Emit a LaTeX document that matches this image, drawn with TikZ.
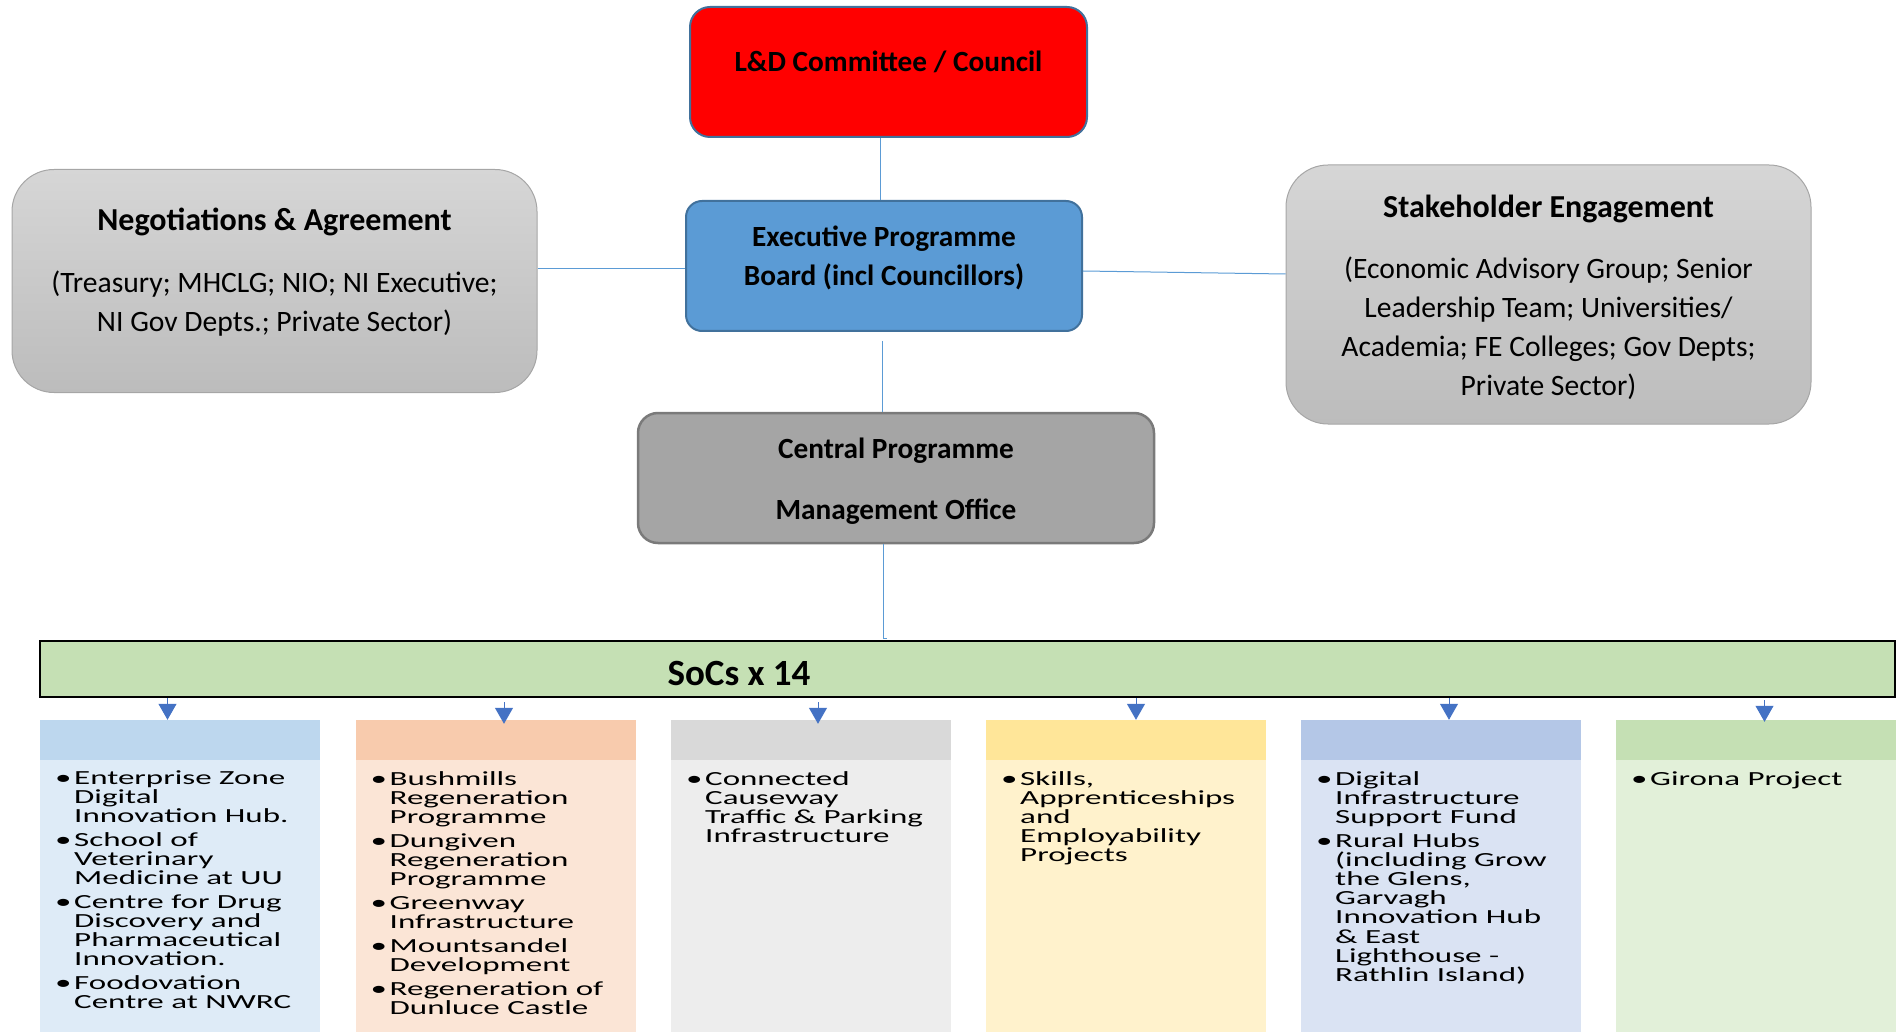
\documentclass[tikz,border=0pt]{standalone}
\usepackage{fontspec}
\setmainfont{Carlito}
\newfontfamily\widefont[FakeStretch=1.65]{Carlito}
\usetikzlibrary{arrows.meta,calc}
\definecolor{redf}{HTML}{FF0000}
\definecolor{boxblue}{HTML}{41719C}
\definecolor{execf}{HTML}{5B9BD5}
\definecolor{connc}{HTML}{5B9BD5}
\definecolor{arrc}{HTML}{4472C4}
\definecolor{cpmof}{HTML}{A5A5A5}
\definecolor{cpmob}{HTML}{7A7A7A}
\definecolor{gtop}{HTML}{D6D6D6}
\definecolor{gbot}{HTML}{BCBCBC}
\definecolor{gbord}{HTML}{A6A6A6}
\definecolor{socsf}{HTML}{C5E0B4}
\definecolor{hA}{HTML}{BDD7EE}\definecolor{bA}{HTML}{DEEBF7}
\definecolor{hB}{HTML}{F8CBAD}\definecolor{bB}{HTML}{FBE5D6}
\definecolor{hC}{HTML}{D9D9D9}\definecolor{bC}{HTML}{EDEDED}
\definecolor{hD}{HTML}{FFE699}\definecolor{bD}{HTML}{FFF2CC}
\definecolor{hE}{HTML}{B4C7E7}\definecolor{bE}{HTML}{DAE3F3}
\definecolor{hF}{HTML}{C5E0B4}\definecolor{bF}{HTML}{E2F0D9}
\newcommand{\myB}[1]{\makebox[19pt][l]{•}#1}
\newcommand{\myC}[1]{\hspace*{19pt}#1}
\newcommand{\coltxt}[1]{\parbox[t]{265pt}{\widefont\fontsize{20}{19.2}\selectfont #1}}
\tikzset{
  shapebox/.style={rectangle, inner sep=0pt},
  btitle/.style={inner sep=0pt, align=center, font=\bfseries\fontsize{29.3}{39}\selectfont},
  gtitle/.style={inner sep=0pt, align=center, font=\bfseries\fontsize{32}{39}\selectfont},
  gbody/.style={inner sep=0pt, align=center, font=\fontsize{29.6}{39}\selectfont},
  graybox/.style={shapebox, rounded corners=42pt, draw=gbord, line width=1pt, top color=gtop, bottom color=gbot},
  conn/.style={draw=connc, line width=1pt},
  arr/.style={draw=arrc, line width=1pt, -{Triangle[width=18pt,length=16pt]}},
  hdr/.style={shapebox, minimum width=280pt, minimum height=40pt},
  colbody/.style={shapebox, minimum width=280pt, minimum height=272pt},
  coltext/.style={inner sep=0pt, anchor=base west}
}
\begin{document}
\begin{tikzpicture}[x=1pt,y=-1pt]
\useasboundingbox (0,0) rectangle (1899,1032);
% top boxes
\node[shapebox, rounded corners=20pt, draw=boxblue, line width=2pt, fill=redf, minimum width=397pt, minimum height=130pt] (red) at (888.5,72) {};
\node[btitle] (redt) at (888.5,62) {L\&D Committee / Council};
\node[shapebox, rounded corners=16pt, draw=boxblue, line width=2pt, fill=execf, minimum width=396pt, minimum height=130pt] (exec) at (884,266) {};
\node[btitle] (exect) at (884,258) {Executive Programme\\Board (incl Councillors)};
\node[graybox, minimum width=525pt, minimum height=223pt] (neg) at (274.5,281) {};
\node[gtitle] (negt) at (274.5,222) {Negotiations \& Agreement};
\node[gbody] (negb) at (274.5,303.5) {(Treasury; MHCLG; NIO; NI Executive;\\NI Gov Depts.; Private Sector)};
\node[graybox, minimum width=525pt, minimum height=259pt] (stk) at (1548.5,294.5) {};
\node[gtitle] (stkt) at (1548.5,209) {Stakeholder Engagement};
\node[gbody] (stkb) at (1548.5,328.5) {(Economic Advisory Group; Senior\\Leadership Team; Universities/\\Academia; FE Colleges; Gov Depts;\\Private Sector)};
\node[shapebox, rounded corners=20pt, draw=cpmob, line width=2.5pt, fill=cpmof, minimum width=516pt, minimum height=130pt] (cpmo) at (896,478) {};
\node[btitle, font=\bfseries\fontsize{29.3}{61}\selectfont] (cpmot) at (896,481) {Central Programme\\Management Office};
% SoCs bar
\node[shapebox, draw=black, line width=2.5pt, fill=socsf, minimum width=1855pt, minimum height=56pt] (socs) at (967.5,669) {};
\node[inner sep=0pt, font=\bfseries\fontsize{37}{40}\selectfont] (socst) at (739,674) {SoCs x 14};
% connectors
\draw[conn] ([xshift=-8.5pt]red.south) -- ([xshift=-8.5pt]red.south |- exec.north);
\draw[conn] ([yshift=12pt]neg.east) -- ([yshift=-3pt]exec.west);
\draw[conn] ([yshift=-5pt]exec.east) -- ([yshift=20.5pt]stk.west);
\draw[conn] ([xshift=-2pt,yshift=-9pt]exec.south) -- ([xshift=-14pt]cpmo.north);
\coordinate (hook) at (887,638);
\draw[conn] ([xshift=-13pt]cpmo.south) -- ([xshift=-13pt]cpmo.south |- hook) -- (hook);
% columns
\foreach \nm/\lx/\hc/\bc in {c1/40/hA/bA, c2/355.5/hB/bB, c3/671/hC/bC, c4/986/hD/bD, c5/1301/hE/bE, c6/1616/hF/bF}{
  \node[hdr, fill=\hc] (h\nm) at (\lx+140,740) {};
  \node[colbody, fill=\bc] (b\nm) at (\lx+140,896) {};
}
\node[coltext] (t1) at (55,784) {\coltxt{\myB{Enterprise Zone}\\ \myC{Digital}\\ \myC{Innovation Hub.}\\[4.5pt]
 \myB{School of}\\ \myC{Veterinary}\\ \myC{Medicine at UU}\\[4.5pt]
 \myB{Centre for Drug}\\ \myC{Discovery and}\\ \myC{Pharmaceutical}\\ \myC{Innovation.}\\[4.5pt]
 \myB{Foodovation}\\ \myC{Centre at NWRC}}};
\node[coltext] (t2) at (370.5,785) {\coltxt{\myB{Bushmills}\\ \myC{Regeneration}\\ \myC{Programme}\\[4.5pt]
 \myB{Dungiven}\\ \myC{Regeneration}\\ \myC{Programme}\\[4.5pt]
 \myB{Greenway}\\ \myC{Infrastructure}\\[4.5pt]
 \myB{Mountsandel}\\ \myC{Development}\\[4.5pt]
 \myB{Regeneration of}\\ \myC{Dunluce Castle}}};
\node[coltext] (t3) at (686,785) {\coltxt{\myB{Connected}\\ \myC{Causeway}\\ \myC{Traffic \& Parking}\\ \myC{Infrastructure}}};
\node[coltext] (t4) at (1001,785) {\coltxt{\myB{Skills,}\\ \myC{Apprenticeships}\\ \myC{and}\\ \myC{Employability}\\ \myC{Projects}}};
\node[coltext] (t5) at (1316,785) {\coltxt{\myB{Digital}\\ \myC{Infrastructure}\\ \myC{Support Fund}\\[4.5pt]
 \myB{Rural Hubs}\\ \myC{(including Grow}\\ \myC{the Glens,}\\ \myC{Garvagh}\\ \myC{Innovation Hub}\\ \myC{\& East}\\ \myC{Lighthouse -}\\ \myC{Rathlin Island)}}};
\node[coltext] (t6) at (1631,785) {\coltxt{\myB{Girona Project}}};
% arrows
\draw[arr] ([xshift=-12.5pt]hc1.north |- socs.south) -- ([xshift=-12.5pt]hc1.north);
\draw[arr] ([xshift=8.5pt,yshift=-4pt]hc2.north |- socs.south) -- ([xshift=8.5pt,yshift=-4pt]hc2.north);
\draw[arr] ([xshift=7pt,yshift=-4pt]hc3.north |- socs.south) -- ([xshift=7pt,yshift=-4pt]hc3.north);
\draw[arr] ([xshift=10pt]hc4.north |- socs.south) -- ([xshift=10pt]hc4.north);
\draw[arr] ([xshift=8pt]hc5.north |- socs.south) -- ([xshift=8pt]hc5.north);
\draw[arr] ([xshift=8.5pt,yshift=-2pt]hc6.north |- socs.south) -- ([xshift=8.5pt,yshift=-2pt]hc6.north);
\end{tikzpicture}
\end{document}
